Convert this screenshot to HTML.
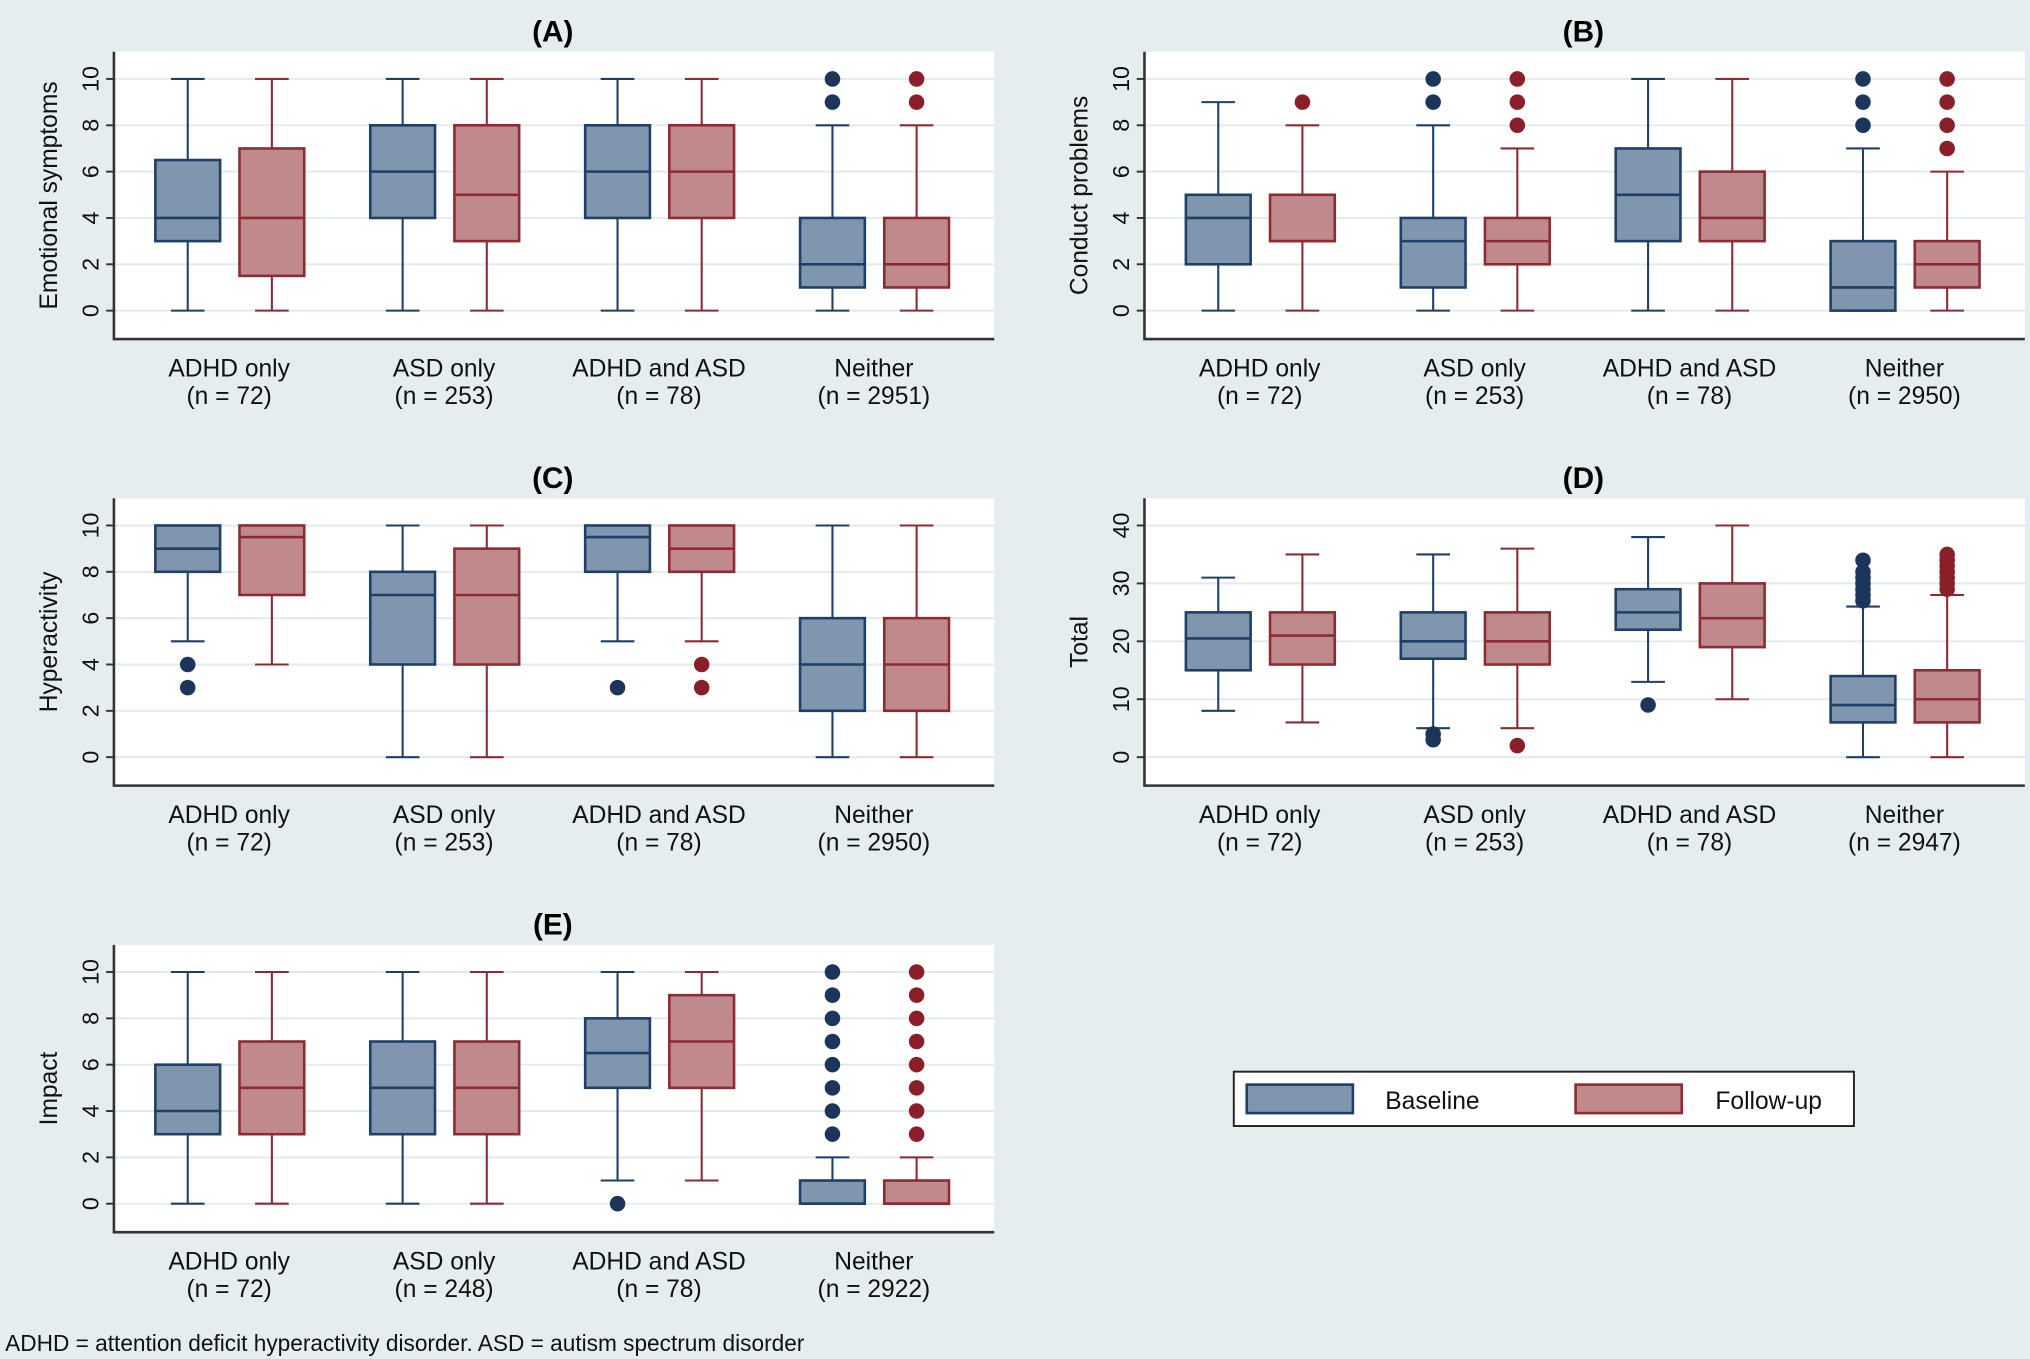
<!DOCTYPE html>
<html><head><meta charset="utf-8">
<style>
html,body{margin:0;padding:0;background:#e6edef;}
svg{display:block;font-family:"Liberation Sans",Arial,sans-serif;}
</style></head>
<body>
<svg id="fig" width="2030" height="1359" viewBox="0 0 1568 1050" preserveAspectRatio="none" xmlns="http://www.w3.org/2000/svg">
<rect x="0" y="0" width="1568" height="1050" fill="#e6edef"/>
<g id="legend">
  <rect x="953" y="828" width="479" height="42" fill="#fff" stroke="#222" stroke-width="1.5"/>
  <rect x="963" y="838" width="82" height="22" fill="#7f96ae" stroke="#1f3f66" stroke-width="2"/>
  <text x="1070" y="857" font-size="19" fill="#111">Baseline</text>
  <rect x="1217" y="838" width="82" height="22" fill="#c08a8c" stroke="#8c2b33" stroke-width="2"/>
  <text x="1325" y="857" font-size="19" fill="#111">Follow-up</text>
</g>
<text x="4" y="1044" font-size="17.5" fill="#111">ADHD = attention deficit hyperactivity disorder. ASD = autism spectrum disorder</text>
</svg>
<script>
const groups = ["ADHD only","ASD only","ADHD and ASD","Neither"];
const nA = ["72","253","78","2951"];
const nB = ["72","253","78","2950"];
const nC = ["72","253","78","2950"];
const nD = ["72","253","78","2947"];
const nE = ["72","248","78","2922"];
// each box: [q1, median, q3, whiskerLow, whiskerHigh, outliers]
const baseA = [[3,4,6.5,0,10,[]],[4,6,8,0,10,[]],[4,6,8,0,10,[]],[1,2,4,0,8,[9,10]]];
const follA = [[1.5,4,7,0,10,[]],[3,5,8,0,10,[]],[4,6,8,0,10,[]],[1,2,4,0,8,[9,10]]];
const baseB = [[2,4,5,0,9,[]],[1,3,4,0,8,[9,10]],[3,5,7,0,10,[]],[0,1,3,0,7,[8,9,10]]];
const follB = [[3,3,5,0,8,[9]],[2,3,4,0,7,[8,9,10]],[3,4,6,0,10,[]],[1,2,3,0,6,[7,8,9,10]]];
const baseC = [[8,9,10,5,10,[3,4]],[4,7,8,0,10,[]],[8,9.5,10,5,10,[3]],[2,4,6,0,10,[]]];
const follC = [[7,9.5,10,4,10,[]],[4,7,9,0,10,[]],[8,9,10,5,10,[3,4]],[2,4,6,0,10,[]]];
const baseD = [[15,20.5,25,8,31,[]],[17,20,25,5,35,[3,4]],[22,25,29,13,38,[9]],[6,9,14,0,26,[27,28,29,30,31,32,34]]];
const follD = [[16,21,25,6,35,[]],[16,20,25,5,36,[2]],[19,24,30,10,40,[]],[6,10,15,0,28,[29,30,31,32,33,34,35]]];
const baseE = [[3,4,6,0,10,[]],[3,5,7,0,10,[]],[5,6.5,8,1,10,[0]],[0,0,1,0,2,[3,4,5,6,7,8,9,10]]];
const follE = [[3,5,7,0,10,[]],[3,5,7,0,10,[]],[5,7,9,1,10,[]],[0,0,1,0,2,[3,4,5,6,7,8,9,10]]];
const ticks10 = [0,2,4,6,8,10];
const ticks40 = [0,10,20,30,40];

const NS="http://www.w3.org/2000/svg";
const svg=document.getElementById('fig');
function mk(tag,attrs,parent){const e=document.createElementNS(NS,tag);for(const k in attrs)e.setAttribute(k,attrs[k]);(parent||svg).appendChild(e);return e;}

function panel(cfg){
  const g=mk('g',{});
  
  
  const x0=cfg.x, top=cfg.top, w=680, h=222;
  const yMaxPix=top+21, yMinPix=top+200;
  const ys=v=>yMinPix-(v-cfg.min)/(cfg.max-cfg.min)*(yMinPix-yMaxPix);
  const bg=mk('rect',{x:x0,y:top,width:w,height:h,fill:'#fff'},g);
  
  
  const t=mk('text',{x:x0+339,y:top-8,'font-size':23,'font-weight':'bold','text-anchor':'middle',fill:'#000'},g);
  t.textContent='('+cfg.id+')';
  
  
  cfg.ticks.forEach(v=>{
    const yy=ys(v);
    const gl=mk('line',{x1:x0,x2:x0+w,y1:yy,y2:yy,stroke:'#e3eaee','stroke-width':1.5},g);
    
    
    mk('line',{x1:x0-6,x2:x0,y1:yy,y2:yy,stroke:'#333','stroke-width':1.5},g);
    const tl=mk('text',{x:0,y:0,'font-size':18,'text-anchor':'middle',fill:'#111',transform:`translate(${x0-12},${yy}) rotate(-90)`},g);
    tl.textContent=v;
    
    
  });
  const yt=mk('text',{x:0,y:0,'font-size':19,'text-anchor':'middle',fill:'#111',transform:`translate(${x0-44},${top+111}) rotate(-90)`},g);
  yt.textContent=cfg.ytitle;
  
  
  const ax=mk('path',{d:`M${x0},${top} V${top+h} H${x0+w}`,fill:'none',stroke:'#333','stroke-width':2},g);
  
  
  const cols=[{fill:'#7f96ae',st:'#1f3f66',dot:'#1b355b'},{fill:'#c08a8c',st:'#8c2b33',dot:'#8a1f2a'}];
  groups.forEach((gname,i)=>{
    const c=x0+89+i*166;
    [cfg.base[i],cfg.foll[i]].forEach((d,s)=>{
      const cx=x0+57+i*166+s*65, col=cols[s], bw=50;
      const bx=mk('g',{},g);
      
      
      mk('line',{x1:cx,x2:cx,y1:ys(d[4]),y2:ys(d[2]),stroke:col.st,'stroke-width':1.6},bx);
      mk('line',{x1:cx,x2:cx,y1:ys(d[0]),y2:ys(d[3]),stroke:col.st,'stroke-width':1.6},bx);
      mk('line',{x1:cx-13,x2:cx+13,y1:ys(d[4]),y2:ys(d[4]),stroke:col.st,'stroke-width':1.6},bx);
      mk('line',{x1:cx-13,x2:cx+13,y1:ys(d[3]),y2:ys(d[3]),stroke:col.st,'stroke-width':1.6},bx);
      mk('rect',{x:cx-bw/2,y:ys(d[2]),width:bw,height:Math.max(0.5,ys(d[0])-ys(d[2])),fill:col.fill,stroke:col.st,'stroke-width':2},bx);
      mk('line',{x1:cx-bw/2,x2:cx+bw/2,y1:ys(d[1]),y2:ys(d[1]),stroke:col.st,'stroke-width':2},bx);
      d[5].forEach(o=>{
        const p=mk('circle',{cx:cx,cy:ys(o),r:6,fill:col.dot},bx);
        
        
      });
    });
    const l1=mk('text',{x:c,y:top+h+29,'font-size':19,'text-anchor':'middle',fill:'#111'},g);
    l1.textContent=gname;
    
    
    const l2=mk('text',{x:c,y:top+h+50,'font-size':19,'text-anchor':'middle',fill:'#111'},g);
    l2.textContent='(n = '+cfg.n[i]+')';
    
    
  });
}
panel({id:'A',x:88,top:40,min:0,max:10,ticks:ticks10,ytitle:'Emotional symptoms',base:baseA,foll:follA,n:nA});
panel({id:'B',x:884,top:40,min:0,max:10,ticks:ticks10,ytitle:'Conduct problems',base:baseB,foll:follB,n:nB});
panel({id:'C',x:88,top:385,min:0,max:10,ticks:ticks10,ytitle:'Hyperactivity',base:baseC,foll:follC,n:nC});
panel({id:'D',x:884,top:385,min:0,max:40,ticks:ticks40,ytitle:'Total',base:baseD,foll:follD,n:nD});
panel({id:'E',x:88,top:730,min:0,max:10,ticks:ticks10,ytitle:'Impact',base:baseE,foll:follE,n:nE});
</script>
</body></html>
